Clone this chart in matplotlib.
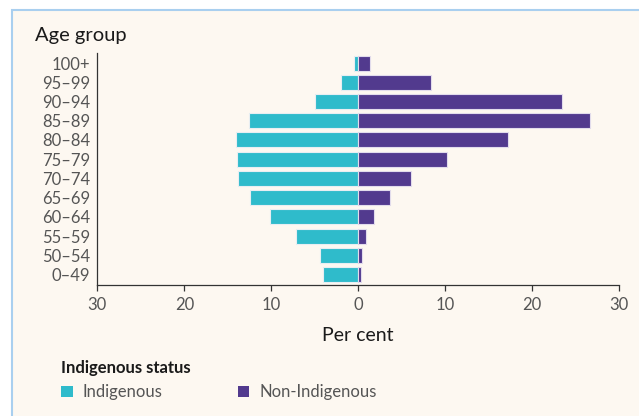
import numpy as np
import matplotlib.pyplot as plt
from matplotlib.patches import Rectangle, Patch

# data (per cent of each group)
age_groups = ['0–49', '50–54', '55–59', '60–64', '65–69', '70–74',
              '75–79', '80–84', '85–89', '90–94', '95–99', '100+']
indigenous = [4.1, 4.35, 7.2, 10.1, 12.4, 13.8, 13.9, 14.1, 12.6, 5.0, 2.0, 0.5]
non_indigenous = [0.3, 0.4, 0.95, 1.8, 3.65, 6.05, 10.2, 17.25, 26.7, 23.4, 8.4, 1.4]
x_ticks = [-30, -20, -10, 0, 10, 20, 30]

TEAL = '#2fbbcb'
PURPLE = '#523a8e'
CREAM = '#fdf8f1'
BORDER = '#a9cfef'
TEXT = '#1a1a1a'
GREY = '#555555'

plt.rcParams['font.family'] = ['Lato', 'DejaVu Sans']

fig = plt.figure(figsize=(6.39, 4.16), dpi=100)
fig.patch.set_facecolor('white')
# cream panel with a light blue border (runs off the right and bottom edges)
fig.patches.append(Rectangle((12 / 639, -0.1), 1.2, 1 - 10 / 416 + 0.1,
                             transform=fig.transFigure, facecolor=CREAM,
                             edgecolor=BORDER, linewidth=1.5, zorder=-5))

ax = fig.add_axes([0.1524, 0.3156, 0.9687 - 0.1524, 0.8726 - 0.3156])
ax.set_facecolor('none')
ax.set_zorder(2)

y = np.arange(len(age_groups))
ax.barh(y, -np.array(indigenous), height=0.78, color=TEAL,
        edgecolor='#e8eef2', linewidth=0.8, label='Indigenous')
ax.barh(y, non_indigenous, height=0.78, color=PURPLE,
        edgecolor='#e2dcec', linewidth=0.8, label='Non-Indigenous')

ax.set_xlim(-30, 30)
ax.set_ylim(-0.52, len(age_groups) - 0.48)
ax.set_xticks(x_ticks)
ax.set_xticklabels([str(abs(t)) for t in x_ticks])
ax.set_yticks(y)
ax.set_yticklabels(age_groups)

for s in ['top', 'right']:
    ax.spines[s].set_visible(False)
for s in ['left', 'bottom']:
    ax.spines[s].set_color('#333333')
    ax.spines[s].set_linewidth(0.9)

ax.tick_params(axis='y', length=0, pad=5, labelsize=12, labelcolor=GREY)
ax.tick_params(axis='x', length=4, width=0.9, color='#333333', pad=5,
               labelsize=12, labelcolor=GREY)

ax.set_xlabel('Per cent', fontsize=14, color=TEXT, labelpad=10)
fig.text(35 / 639, 1 - 36 / 416, 'Age group', fontsize=14.5, color=TEXT,
         ha='left', va='center')

handles = [Patch(facecolor=TEAL, edgecolor='none', label='Indigenous'),
           Patch(facecolor=PURPLE, edgecolor='none', label='Non-Indigenous')]
leg = fig.legend(handles=handles, title='Indigenous status', ncol=2,
                 loc='upper left', bbox_to_anchor=(46 / 639, 1 - 345 / 416),
                 frameon=False, fontsize=12, title_fontsize=12,
                 handlelength=0.7, handleheight=0.7, handletextpad=0.6,
                 columnspacing=4.5, alignment='left')
leg.get_title().set_fontweight('bold')
leg.get_title().set_color(TEXT)
for t in leg.get_texts():
    t.set_color(GREY)

fig.savefig('out.png', dpi=100)
